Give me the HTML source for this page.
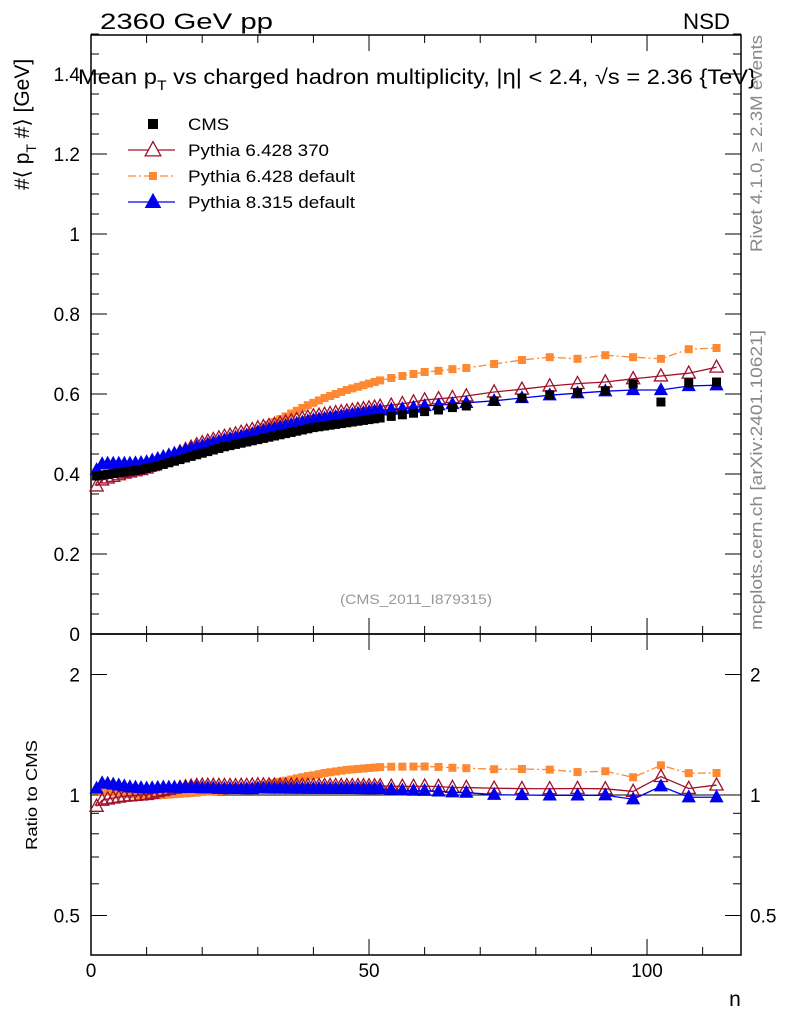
<!DOCTYPE html>
<html><head><meta charset="utf-8"><style>
html,body{margin:0;padding:0;background:#fff}
svg{display:block;font-family:"Liberation Sans",sans-serif}
</style></head><body>
<svg id="c" width="786" height="1024" viewBox="0 0 786 1024">
</svg>
<script>
const nBins=[1,2,3,4,5,6,7,8,9,10,11,12,13,14,15,16,17,18,19,20,21,22,23,24,25,26,27,28,29,30,31,32,33,34,35,36,37,38,39,40,41,42,43,44,45,46,47,48,49,50,51,52,54,56,58,60,62.5,65,67.5,72.5,77.5,82.5,87.5,92.5,97.5,102.5,107.5,112.5];
const cmsVals=[0.395,0.397,0.399,0.401,0.403,0.405,0.407,0.409,0.411,0.414,0.417,0.420,0.424,0.428,0.432,0.436,0.440,0.444,0.448,0.452,0.456,0.460,0.464,0.468,0.471,0.474,0.477,0.480,0.483,0.486,0.489,0.492,0.495,0.498,0.501,0.504,0.507,0.510,0.513,0.516,0.518,0.520,0.522,0.524,0.526,0.528,0.530,0.532,0.534,0.536,0.538,0.540,0.544,0.548,0.552,0.556,0.560,0.566,0.570,0.582,0.590,0.598,0.603,0.608,0.625,0.580,0.628,0.630];
const p370Vals=[0.370,0.385,0.390,0.394,0.398,0.402,0.405,0.408,0.411,0.415,0.421,0.428,0.435,0.442,0.449,0.455,0.461,0.467,0.473,0.478,0.482,0.486,0.490,0.494,0.497,0.500,0.504,0.507,0.511,0.515,0.518,0.521,0.524,0.527,0.530,0.533,0.536,0.539,0.542,0.545,0.547,0.549,0.551,0.553,0.555,0.557,0.559,0.561,0.563,0.565,0.567,0.569,0.572,0.576,0.580,0.585,0.588,0.591,0.595,0.605,0.612,0.620,0.626,0.630,0.638,0.645,0.652,0.667];
const pDefVals=[0.405,0.406,0.407,0.407,0.408,0.409,0.409,0.410,0.411,0.412,0.415,0.419,0.424,0.429,0.434,0.439,0.444,0.449,0.454,0.460,0.465,0.470,0.475,0.480,0.485,0.490,0.495,0.500,0.505,0.511,0.517,0.523,0.530,0.537,0.544,0.551,0.558,0.565,0.572,0.578,0.584,0.590,0.595,0.600,0.605,0.610,0.614,0.618,0.622,0.626,0.630,0.634,0.640,0.645,0.650,0.655,0.658,0.662,0.665,0.675,0.685,0.692,0.688,0.697,0.692,0.688,0.712,0.715];
const p8Vals=[0.410,0.425,0.426,0.426,0.426,0.426,0.426,0.427,0.428,0.430,0.434,0.438,0.443,0.447,0.451,0.455,0.459,0.463,0.467,0.470,0.474,0.478,0.481,0.485,0.488,0.491,0.494,0.497,0.500,0.505,0.508,0.511,0.514,0.517,0.520,0.523,0.526,0.529,0.532,0.535,0.537,0.539,0.541,0.543,0.545,0.547,0.549,0.551,0.553,0.555,0.557,0.559,0.561,0.563,0.566,0.570,0.572,0.575,0.578,0.583,0.590,0.597,0.602,0.607,0.610,0.610,0.620,0.622];
const yTicksMain=[0,0.2,0.4,0.6,0.8,1,1.2,1.4];
const yTickLabelsMain=["0","0.2","0.4","0.6","0.8","1","1.2","1.4"];
const yTicksRatio=[0.5,1,2];
const xTicks=[0,50,100];

const NS="http://www.w3.org/2000/svg";
const svg=document.getElementById('c');
const L=91,R=741,T=35,MB=634,RB=955;
const sx=n=>L+(n/116.9)*(R-L);
const sy=v=>MB-(v-0)*400;
const sr=r=>795-Math.log2(r)*120.5;
function mk(tag,attrs,parent){const e=document.createElementNS(NS,tag);for(const k in attrs)e.setAttribute(k,attrs[k]);(parent||svg).appendChild(e);return e;}
function txt(s,x,y,size,extra){const e=mk('text',Object.assign({x:x,y:y,'font-size':size},extra||{}));e.textContent=s;return e;}

const f1=mk('rect',{x:L,y:T,width:R-L,height:MB-T,fill:'none',stroke:'#000','stroke-width':1.5});


const f2=mk('rect',{x:L,y:MB,width:R-L,height:RB-MB,fill:'none',stroke:'#000','stroke-width':1.5});



for(let v=0;v<=1.5001;v+=0.05){const y=sy(v);const maj=Math.abs(v/0.2-Math.round(v/0.2))<1e-6;const len=maj?16:8;
 mk('line',{x1:L,x2:L+len,y1:y,y2:y,stroke:'#000'});mk('line',{x1:R,x2:R-len,y1:y,y2:y,stroke:'#000'});}
yTicksMain.forEach((v,i)=>{const t=txt(yTickLabelsMain[i],80,sy(v)+7,19,{'text-anchor':'end'});
 
 });
[0.5,0.6,0.7,0.8,0.9,1,2].forEach(r=>{const y=sr(r);const maj=yTicksRatio.includes(r);const len=maj?16:8;
 mk('line',{x1:L,x2:L+len,y1:y,y2:y,stroke:'#000'});mk('line',{x1:R,x2:R-len,y1:y,y2:y,stroke:'#000'});});
yTicksRatio.forEach(r=>{const lab=String(r);
 const a=txt(lab,80,sr(r)+7,19,{'text-anchor':'end'});
 
 
 const b=txt(lab,750,sr(r)+7,19);
 
 });
for(let n=0;n<=116;n+=10){const x=sx(n);const maj=n%50===0;const len=maj?16:8;
 [[T,1],[MB,-1],[MB,1],[RB,-1]].forEach(([y0,d])=>mk('line',{x1:x,x2:x,y1:y0,y2:y0+d*len,stroke:'#000'}));}
xTicks.forEach(n=>{const t=txt(String(n),sx(n),977,19,{'text-anchor':'middle'});
 
 });
mk('line',{x1:L,x2:R,y1:sr(1),y2:sr(1),stroke:'#000','stroke-width':1});

function tri(x,y,s,fill,stroke){return mk('polygon',{points:`${x},${y-s*0.65} ${x-s*0.6},${y+s*0.45} ${x+s*0.6},${y+s*0.45}`,fill:fill,stroke:stroke,'stroke-width':1.3});}
function drawSeries(vals,color,dash,marker,name,ratio){
 const g=mk('g',{});
 
 
 const fy=ratio?(i=>sr(vals[i]/cmsVals[i])):(i=>sy(vals[i]));
 if(color){const pts=nBins.map((n,i)=>sx(n)+','+fy(i)).join(' ');
  mk('polyline',{points:pts,fill:'none',stroke:color,'stroke-width':1.3,'stroke-dasharray':dash||'none'},g);}
 nBins.forEach((n,i)=>{const x=sx(n),y=fy(i);let m;
  if(marker==='sqB')m=mk('rect',{x:x-4.5,y:y-4.5,width:9,height:9,fill:'#000'},g);
  else if(marker==='sqO')m=mk('rect',{x:x-4,y:y-4,width:8,height:8,fill:'#ff8833'},g);
  else if(marker==='triO'){m=tri(x,y,11,'none','#a0102a');g.appendChild(m);}
  else {m=tri(x,y,10,'#0000ee','#0000ee');g.appendChild(m);}
  
  });
}
drawSeries(pDefVals,'#ff8833','8 3 2 3','sqO','pythia6-default-series',false);
drawSeries(p370Vals,'#a0102a',null,'triO','pythia6-370-series',false);
drawSeries(p8Vals,'#0000ee',null,'triF','pythia8-series',false);
drawSeries(cmsVals,null,null,'sqB','cms-data-series',false);
drawSeries(pDefVals,'#ff8833','8 3 2 3','sqO','ratio-pythia6-default',true);
drawSeries(p370Vals,'#a0102a',null,'triO','ratio-pythia6-370',true);
drawSeries(p8Vals,'#0000ee',null,'triF','ratio-pythia8',true);

const lg=mk('g',{});


const ly=[124,150,176,202];
mk('rect',{x:148,y:ly[0]-5,width:10,height:10,fill:'#000'},lg);
mk('line',{x1:128,x2:175,y1:ly[1],y2:ly[1],stroke:'#a0102a','stroke-width':1.3},lg);lg.appendChild(tri(153,ly[1],13,'#fff','#a0102a'));
mk('line',{x1:128,x2:175,y1:ly[2],y2:ly[2],stroke:'#ff8833','stroke-width':1.3,'stroke-dasharray':'8 3 2 3'},lg);mk('rect',{x:149,y:ly[2]-4,width:8,height:8,fill:'#ff8833'},lg);
mk('line',{x1:128,x2:175,y1:ly[3],y2:ly[3],stroke:'#0000ee','stroke-width':1.3},lg);lg.appendChild(tri(153,ly[3],12,'#0000ee','#0000ee'));
const legLab=["CMS","Pythia 6.428 370","Pythia 6.428 default","Pythia 8.315 default"];
const legLen=[41,141,167,167];
legLab.forEach((s,i)=>{const t=txt(s,188,ly[i]+6,17,{textLength:legLen[i],lengthAdjust:'spacingAndGlyphs'});lg.appendChild(t);
 
 });

let t;
t=txt("2360 GeV pp",100,29,22,{textLength:173,lengthAdjust:'spacingAndGlyphs'});
t=txt("NSD",683,29,22,{textLength:47,lengthAdjust:'spacingAndGlyphs'});
t=mk('text',{x:78,y:84,'font-size':21,textLength:678,lengthAdjust:'spacingAndGlyphs'});t.innerHTML='Mean p<tspan font-size="14" dy="6">T</tspan><tspan dy="-6"> vs charged hadron multiplicity, |η| &lt; 2.4, √s = 2.36 {TeV}</tspan>';

t=mk('text',{transform:'translate(29,190) rotate(-90)','font-size':21});t.innerHTML='#⟨ p<tspan font-size="14" dy="7">T</tspan><tspan dy="-7"> #⟩ [GeV]</tspan>';

t=txt("Ratio to CMS",0,0,16,{transform:'translate(37,850) rotate(-90)',textLength:110,lengthAdjust:'spacingAndGlyphs'});
t=txt("n",735,1006,21,{'text-anchor':'middle'});
t=txt("(CMS_2011_I879315)",340,604,14,{fill:'#999',textLength:152,lengthAdjust:'spacingAndGlyphs'});
t=txt("Rivet 4.1.0, ≥ 2.3M events",0,0,17,{transform:'translate(762,252) rotate(-90)',fill:'#888',textLength:217,lengthAdjust:'spacingAndGlyphs'});
t=txt("mcplots.cern.ch [arXiv:2401.10621]",0,0,17,{transform:'translate(762,630) rotate(-90)',fill:'#888',textLength:300,lengthAdjust:'spacingAndGlyphs'});
</script>
</body></html>
